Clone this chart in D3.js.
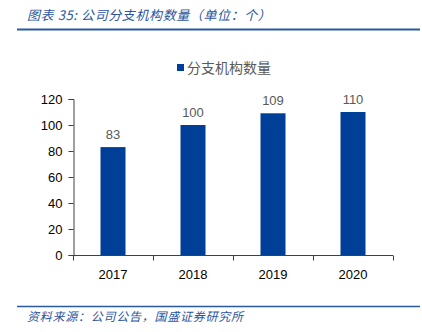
<!DOCTYPE html>
<html>
<head>
<meta charset="utf-8">
<script src="https://cdn.jsdelivr.net/npm/d3@7"></script>
<style>
  html, body { margin: 0; padding: 0; background: #fff; }
  svg { display: block; }
</style>
</head>
<body>
<svg id="chart" width="422" height="332"></svg>
<script>
const years = ["2017", "2018", "2019", "2020"];
const branches = [83, 100, 109, 110];
const yTicks = [0, 20, 40, 60, 80, 100, 120];
const seriesName = "分支机构数量";
const titleText = "图表 35:  公司分支机构数量（单位：个）";
const sourceText = "资料来源：公司公告，国盛证券研究所";

const svg = d3.select("#chart");
const cjk = "'Noto Sans CJK SC', 'Noto Sans', sans-serif";
const barColor = "#003f98";
const headColor = "#2a56a0";

// Header title and rule
svg.append("text")
  .attr("x", 27).attr("y", 20)
  .attr("font-family", cjk).attr("font-size", 13)
  .attr("font-style", "italic")
  .attr("letter-spacing", 0.6)
  .attr("fill", headColor)
  .text(titleText);
svg.append("line")
  .attr("x1", 17).attr("x2", 420).attr("y1", 29.5).attr("y2", 29.5)
  .attr("stroke", "#2a5aa0").attr("stroke-width", 2);

// Footer rule and source
svg.append("line")
  .attr("x1", 17).attr("x2", 420).attr("y1", 306.5).attr("y2", 306.5)
  .attr("stroke", "#2a5aa0").attr("stroke-width", 1.5);
svg.append("text")
  .attr("x", 27).attr("y", 321)
  .attr("font-family", cjk).attr("font-size", 12)
  .attr("font-style", "italic")
  .attr("letter-spacing", 0.75)
  .attr("fill", headColor)
  .text(sourceText);

// Scales
const x = d3.scaleBand().domain(years).range([73, 393]).paddingInner(0).paddingOuter(0);
const y = d3.scaleLinear().domain([0, 120]).range([255, 99]);
const barW = 25;

// Y axis
const yAxis = svg.append("g")
  .attr("transform", "translate(73.5,0)")
  .call(d3.axisLeft(y).tickValues(yTicks).tickSize(5).tickPadding(6));
yAxis.select(".domain").attr("stroke", "#404040");
yAxis.selectAll(".tick line").attr("stroke", "#404040");
yAxis.selectAll("text")
  .attr("font-family", "'Liberation Sans', Arial, sans-serif")
  .attr("font-size", 13).attr("fill", "#000");

// X axis with ticks on band boundaries
const xAxisG = svg.append("g").attr("transform", "translate(0,255.5)");
xAxisG.append("line")
  .attr("x1", 73).attr("x2", 393)
  .attr("stroke", "#404040");
const bounds = years.map(d => x(d)).concat([x(years[years.length - 1]) + x.bandwidth()]);
xAxisG.selectAll(".xt").data(bounds).enter().append("line")
  .attr("class", "xt")
  .attr("x1", d => Math.round(d) + 0.5).attr("x2", d => Math.round(d) + 0.5)
  .attr("y1", 0).attr("y2", 5)
  .attr("stroke", "#404040");
xAxisG.selectAll(".xl").data(years).enter().append("text")
  .attr("class", "xl")
  .attr("x", d => x(d) + x.bandwidth() / 2)
  .attr("y", 23)
  .attr("text-anchor", "middle")
  .attr("font-family", "'Liberation Sans', Arial, sans-serif")
  .attr("font-size", 13).attr("fill", "#000")
  .text(d => d);

// Bars
svg.selectAll(".bar").data(years).enter().append("rect")
  .attr("class", "bar")
  .attr("x", (d, i) => x(d) + x.bandwidth() / 2 - barW / 2)
  .attr("y", (d, i) => y(branches[i]))
  .attr("width", barW)
  .attr("height", (d, i) => y(0) - y(branches[i]))
  .attr("fill", barColor);

// Value labels
svg.selectAll(".val").data(years).enter().append("text")
  .attr("class", "val")
  .attr("x", d => x(d) + x.bandwidth() / 2)
  .attr("y", (d, i) => y(branches[i]) - 8)
  .attr("text-anchor", "middle")
  .attr("font-family", "'Liberation Sans', Arial, sans-serif")
  .attr("font-size", 13).attr("fill", "#595959")
  .text((d, i) => branches[i]);

// Legend
const lg = svg.append("g");
lg.append("rect")
  .attr("x", 177).attr("y", 64).attr("width", 7).attr("height", 7)
  .attr("fill", barColor);
lg.append("text")
  .attr("x", 187).attr("y", 73)
  .attr("font-family", cjk).attr("font-size", 14)
  .attr("fill", "#595959")
  .text(seriesName);
</script>
</body>
</html>
